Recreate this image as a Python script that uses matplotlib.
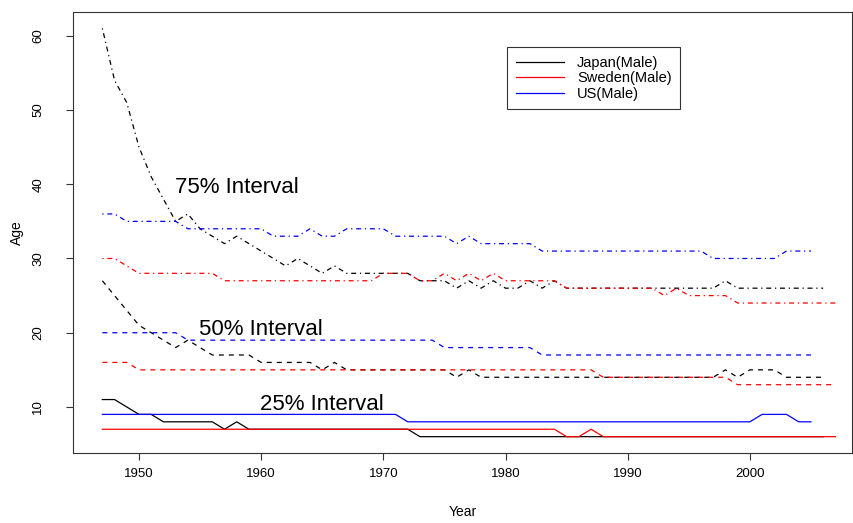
import numpy as np
import matplotlib
matplotlib.use("Agg")
from matplotlib import pyplot as plt

plt.rcParams['font.family'] = ['Liberation Sans', 'DejaVu Sans']

# Age quantiles (25%, 50%, 75%) by year, male
jp_years = np.arange(1947, 2007)
se_years = np.arange(1947, 2008)
us_years = np.arange(1947, 2006)

jp_75 = [61, 54, 51, 45, 41, 38, 35, 36, 34, 33, 32, 33, 32, 31, 30, 29, 30, 29, 28, 29,
         28, 28, 28, 28, 28, 28, 27, 27, 27, 26, 27, 26, 27, 26, 26, 27, 26, 27, 26, 26,
         26, 26, 26, 26, 26, 26, 26, 26, 26, 26, 26, 27, 26, 26, 26, 26, 26, 26, 26, 26]
jp_50 = [27, 25, 23, 21, 20, 19, 18, 19, 18, 17, 17, 17, 17, 16, 16, 16, 16, 16, 15, 16,
         15, 15, 15, 15, 15, 15, 15, 15, 15, 14, 15, 14, 14, 14, 14, 14, 14, 14, 14, 14,
         14, 14, 14, 14, 14, 14, 14, 14, 14, 14, 14, 15, 14, 15, 15, 15, 14, 14, 14, 14]
jp_25 = [11, 11, 10, 9, 9, 8, 8, 8, 8, 8, 7, 8, 7, 7, 7, 7, 7, 7, 7, 7,
         7, 7, 7, 7, 7, 7, 6, 6, 6, 6, 6, 6, 6, 6, 6, 6, 6, 6, 6, 6,
         6, 6, 6, 6, 6, 6, 6, 6, 6, 6, 6, 6, 6, 6, 6, 6, 6, 6, 6, 6]

se_75 = [30, 30, 29, 28, 28, 28, 28, 28, 28, 28, 27, 27, 27, 27, 27, 27, 27, 27, 27, 27,
         27, 27, 27, 28, 28, 28, 27, 27, 28, 27, 28, 27, 28, 27, 27, 27, 27, 27, 26, 26,
         26, 26, 26, 26, 26, 26, 25, 26, 25, 25, 25, 25, 24, 24, 24, 24, 24, 24, 24, 24, 24]
se_50 = [16, 16, 16, 15, 15, 15, 15, 15, 15, 15, 15, 15, 15, 15, 15, 15, 15, 15, 15, 15,
         15, 15, 15, 15, 15, 15, 15, 15, 15, 15, 15, 15, 15, 15, 15, 15, 15, 15, 15, 15,
         15, 14, 14, 14, 14, 14, 14, 14, 14, 14, 14, 14, 13, 13, 13, 13, 13, 13, 13, 13, 13]
se_25 = [7, 7, 7, 7, 7, 7, 7, 7, 7, 7, 7, 7, 7, 7, 7, 7, 7, 7, 7, 7,
         7, 7, 7, 7, 7, 7, 7, 7, 7, 7, 7, 7, 7, 7, 7, 7, 7, 7, 6, 6,
         7, 6, 6, 6, 6, 6, 6, 6, 6, 6, 6, 6, 6, 6, 6, 6, 6, 6, 6, 6, 6]

us_75 = [36, 36, 35, 35, 35, 35, 35, 34, 34, 34, 34, 34, 34, 34, 33, 33, 33, 34, 33, 33,
         34, 34, 34, 34, 33, 33, 33, 33, 33, 32, 33, 32, 32, 32, 32, 32, 31, 31, 31, 31,
         31, 31, 31, 31, 31, 31, 31, 31, 31, 31, 30, 30, 30, 30, 30, 30, 31, 31, 31]
us_50 = [20, 20, 20, 20, 20, 20, 20, 19, 19, 19, 19, 19, 19, 19, 19, 19, 19, 19, 19, 19,
         19, 19, 19, 19, 19, 19, 19, 19, 18, 18, 18, 18, 18, 18, 18, 18, 17, 17, 17, 17,
         17, 17, 17, 17, 17, 17, 17, 17, 17, 17, 17, 17, 17, 17, 17, 17, 17, 17, 17]
us_25 = [9, 9, 9, 9, 9, 9, 9, 9, 9, 9, 9, 9, 9, 9, 9, 9, 9, 9, 9, 9,
         9, 9, 9, 9, 9, 8, 8, 8, 8, 8, 8, 8, 8, 8, 8, 8, 8, 8, 8, 8,
         8, 8, 8, 8, 8, 8, 8, 8, 8, 8, 8, 8, 8, 8, 9, 9, 9, 8, 8]

countries = ['Japan(Male)', 'Sweden(Male)', 'US(Male)']
colors = ['black', 'red', 'blue']
interval_labels = ['75% Interval', '50% Interval', '25% Interval']
label_pos = [(1958, 39.6), (1960, 20.4), (1965, 10.3)]

fig = plt.figure(figsize=(8.54, 5.23), dpi=100)
ax = fig.add_axes([73.5 / 854, 1 - 453 / 523, 778.5 / 854, 441 / 523])

styles = [(0, (1, 3, 4, 3)), (0, (4, 4)), '-']
series = [(jp_years, [jp_75, jp_50, jp_25]),
          (se_years, [se_75, se_50, se_25]),
          (us_years, [us_75, us_50, us_25])]
for (yrs, qs), col, name in zip(series, colors, countries):
    for q, ls in zip(qs, styles):
        ax.plot(yrs, q, color=col, lw=0.9, linestyle=ls)
    ax.plot([], [], color=col, lw=0.9, label=name)

for txt, (x, y) in zip(interval_labels, label_pos):
    ax.text(x, y, txt, fontsize=16, ha='center', va='center')

# R-style limits: data range padded by 4%
ax.set_xlim(1947 - 0.04 * 59, 2006 + 0.04 * 59)
ax.set_ylim(6 - 0.04 * 55, 61 + 0.04 * 55)
ax.set_xticks([1950, 1960, 1970, 1980, 1990, 2000])
ax.set_yticks([10, 20, 30, 40, 50, 60])
ax.tick_params(direction='out', length=5, width=0.8, labelsize=9.5, color='#333333')
ax.tick_params(axis='x', pad=6)
ax.tick_params(axis='y', pad=16)
plt.setp(ax.get_yticklabels(), rotation=90, va='center')
for s in ax.spines.values():
    s.set_linewidth(0.8)
    s.set_color('#333333')
ax.set_xlabel('Year', fontsize=10, labelpad=18)
ax.set_ylabel('Age', fontsize=10, labelpad=6)

leg = ax.legend(loc='upper left', bbox_to_anchor=(0.5568, 0.9206), fontsize=10.5,
                frameon=True, fancybox=False, handlelength=3.3, borderpad=0.6,
                labelspacing=0.1, handletextpad=0.9, borderaxespad=0)
leg.get_frame().set_edgecolor('black')
leg.get_frame().set_linewidth(0.8)

fig.savefig('out.png', dpi=100)
